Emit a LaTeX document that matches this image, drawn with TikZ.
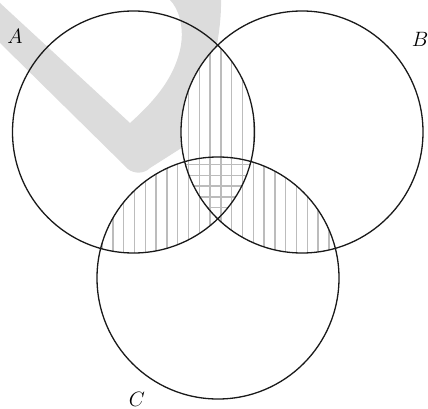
\documentclass[tikz,border=0pt]{standalone}
\definecolor{wmcol}{RGB}{220,220,220}
\definecolor{hatchcol}{RGB}{188,188,188}
\tikzset{
  hatch/.style={draw=hatchcol, line width=1.3pt},
  ring/.style={draw=black!90, line width=1.3pt},
  lab/.style={inner sep=0pt, font=\fontsize{21}{21}\selectfont}
}
\begin{document}
\begin{tikzpicture}[x=1pt,y=-1pt]
\useasboundingbox (0,0) rectangle (428,409);
\coordinate (ca) at (133.5,132);
\coordinate (cb) at (302,132);
\coordinate (cc) at (218,278);
% watermark
\fill[wmcol] (0,3) -- (130,123) .. controls (150,105) and (175,80) .. (181,45)
  .. controls (184,25) and (178,8) .. (170,0) -- (221,0)
  .. controls (222,40) and (205,110) .. (183,147) -- (150,168)
  .. controls (144,174) and (134,174) .. (128,169) -- (0,43) -- cycle;
% A and B
\begin{scope}
  \clip (ca) circle[radius=121];
  \clip (cb) circle[radius=121];
  \fill[white] (0,0) rectangle (428,409);
  \foreach \i in {-14,...,8} \draw[hatch] ({253.3+10.8*\i},0) -- ++(0,409);
\end{scope}
% A and C
\begin{scope}
  \clip (ca) circle[radius=121];
  \clip (cc) circle[radius=121];
  \fill[white] (0,0) rectangle (428,409);
  \foreach \i in {-14,...,8} \draw[hatch] ({253.3+10.8*\i},0) -- ++(0,409);
\end{scope}
% B and C
\begin{scope}
  \clip (cb) circle[radius=121];
  \clip (cc) circle[radius=121];
  \fill[white] (0,0) rectangle (428,409);
  \foreach \i in {-14,...,8} \draw[hatch] ({253.3+10.8*\i},0) -- ++(0,409);
\end{scope}
% A, B and C
\begin{scope}
  \clip (ca) circle[radius=121];
  \clip (cb) circle[radius=121];
  \clip (cc) circle[radius=121];
  \foreach \i in {-14,...,8} \draw[hatch] ({253.3+10.8*\i},0) -- ++(0,409);
  \foreach \j in {-1,...,7} \draw[hatch] (0,{164.5+10.8*\j}) -- ++(428,0);
\end{scope}
% circles
\draw[ring] (ca) circle[radius=121];
\draw[ring] (cb) circle[radius=121];
\draw[ring] (cc) circle[radius=121];
% labels
\node[lab] (la) at (15,36) {$A$};
\node[lab] (lb) at (420,39) {$B$};
\node[lab] (lc) at (137,399) {$C$};
\end{tikzpicture}
\end{document}
